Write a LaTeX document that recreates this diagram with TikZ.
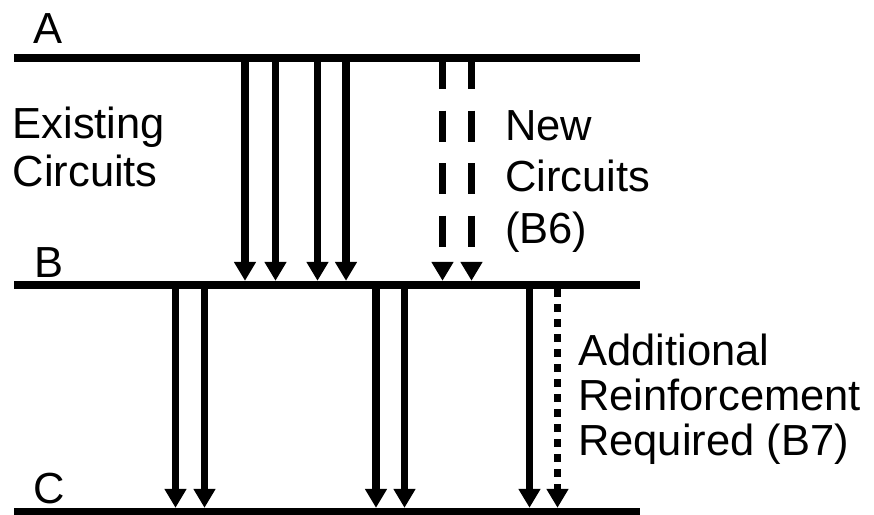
\documentclass[tikz,border=0pt]{standalone}
\usepackage{fontspec}
\setmainfont{Liberation Sans}
\usetikzlibrary{arrows.meta}
\begin{document}
\begin{tikzpicture}[x=1pt,y=-1pt,
  levelbar/.style={fill=black,draw=none,inner sep=0pt,minimum width=626pt,minimum height=8pt},
  flow/.style={line width=7.5pt,-{Triangle[width=21pt,length=19pt]}},
  newflow/.style={flow,dash pattern=on 31pt off 21.5pt,dash phase=4pt},
  extraflow/.style={flow,dash pattern=on 7.5pt off 7.5pt},
  lbl/.style={inner sep=0pt,anchor=base west,align=left,font=\fontsize{43.5}{48}\selectfont}]
\useasboundingbox (0,0) rectangle (874,514);
% levels
\node[levelbar] (A) at (327,58) {};
\node[levelbar] (B) at (327,285) {};
\node[levelbar] (C) at (327,512) {};
% labels (base anchor = baseline of the last line)
\node[lbl] (labA) at (33,43) {A};
\node[lbl] (labB) at (34,277) {B};
\node[lbl] (labC) at (33,503) {C};
\node[lbl] (exist) at (12.5,186) {Existing\\Circuits};
\node[lbl,font=\fontsize{43.5}{51.5}\selectfont] (new) at (505,243) {New\\Circuits\\(B6)};
\node[lbl,font=\fontsize{43.5}{45}\selectfont] (add) at (578,455) {Additional\\Reinforcement\\Required (B7)};
% existing circuits A -> B
\foreach \x in {245,275.5,317.5,346}
  \draw[flow] (\x,0 |- A.south) -- (\x,0 |- B.north);
% new circuits A -> B
\foreach \x in {442.5,471.5}
  \draw[newflow] (\x,0 |- A.south) -- (\x,0 |- B.north);
% B -> C
\foreach \x in {175.5,204.5,376,404.5,529.5}
  \draw[flow] (\x,0 |- B.south) -- (\x,0 |- C.north);
% additional reinforcement
\draw[extraflow] (557.5,0 |- B.south) -- (557.5,0 |- C.north);
\end{tikzpicture}
\end{document}
